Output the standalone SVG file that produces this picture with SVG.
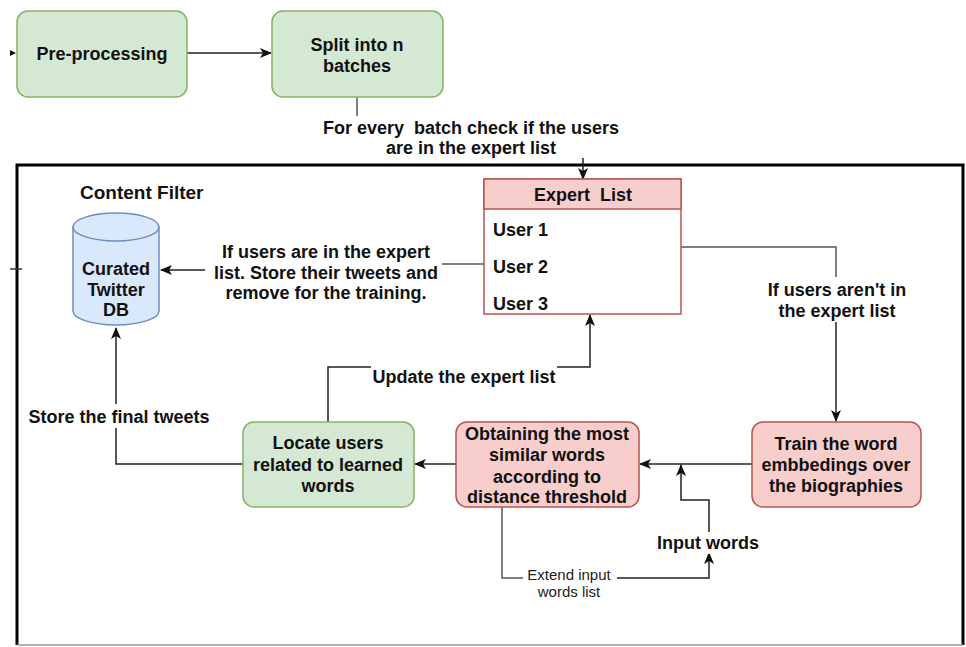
<svg xmlns="http://www.w3.org/2000/svg" width="966" height="647" viewBox="0 0 966 647">
<style>
  .t{font-family:"Liberation Sans",Arial,sans-serif;font-weight:bold;font-size:18px;fill:#111;text-anchor:middle}
  .s{font-family:"Liberation Sans",Arial,sans-serif;font-size:15px;fill:#222;text-anchor:middle}
  .pre{white-space:pre}
  .green{fill:#d5e8d4;stroke:#82b366;stroke-width:1.5}
  .red{fill:#f8cecc;stroke:#b85450;stroke-width:1.5}
  .blue{fill:#dae8fc;stroke:#6c8ebf;stroke-width:1.5}
  .e{fill:none;stroke:#222;stroke-width:1.5}
  .g{fill:none;stroke:#555;stroke-width:1.5}
</style>
<defs>
  <marker id="arr" markerUnits="userSpaceOnUse" markerWidth="12" markerHeight="10" viewBox="0 0 12 10" refX="11" refY="5" orient="auto">
    <path d="M0,0 L12,5 L0,10 L3,5 z" fill="#111"/>
  </marker>
</defs>
<rect width="966" height="647" fill="#fff"/>

<g id="frame">
  <path d="M17,645 V165 H963 V645" fill="none" stroke="#000" stroke-width="3"/>
  <line x1="17" y1="645" x2="963" y2="645" stroke="#999" stroke-width="1.5"/>
  <line x1="10" y1="269" x2="22" y2="269" stroke="#333" stroke-width="1.5"/>
  <text class="t" x="80" y="199" style="text-anchor:start;font-size:19px">Content Filter</text>
</g>

<g id="connectors">
  <path d="M10,50 L16,53 L10,56 z" fill="#111"/>
  <path class="e" d="M187,53 H271" marker-end="url(#arr)"/>
  <path class="g" d="M357,97 V116"/>
  <path class="e" d="M583,158 V179" marker-end="url(#arr)"/>
  <path class="g" d="M681,247 H836 V277"/>
  <path class="e" d="M836,322 V421" marker-end="url(#arr)"/>
  <path class="g" d="M484,264 H442"/>
  <path class="e" d="M205,270 H161" marker-end="url(#arr)"/>
  <path class="e" d="M752,464 H640" marker-end="url(#arr)"/>
  <path class="e" d="M456,464 H415" marker-end="url(#arr)"/>
  <path class="e" d="M243,464 H116 V328" marker-end="url(#arr)"/>
  <path class="e" d="M328,422 V367 H371"/>
  <path class="e" d="M557,367 H590 V315" marker-end="url(#arr)"/>
  <path class="g" d="M502,507 V578 H523"/>
  <path class="e" d="M617,578 H709 V553" marker-end="url(#arr)"/>
  <path class="e" d="M709,532 V500 H681 V465" marker-end="url(#arr)"/>

  <text class="t pre" x="471" y="134">For every  batch check if the users</text>
  <text class="t" x="471" y="154">are in the expert list</text>
  <text class="t" x="837" y="296">If users aren't in</text>
  <text class="t" x="837" y="317">the expert list</text>
  <text class="t" x="326" y="258">If users are in the expert</text>
  <text class="t" x="326" y="279">list. Store their tweets and</text>
  <text class="t" x="326" y="299">remove for the training.</text>
  <text class="t" x="464" y="383">Update the expert list</text>
  <rect x="26" y="404" width="186" height="24" fill="#fff"/>
  <text class="t" x="119" y="423">Store the final tweets</text>
  <rect x="655" y="532" width="106" height="22" fill="#fff"/>
  <text class="t" x="708" y="549">Input words</text>
  <text class="s" x="569" y="580">Extend input</text>
  <text class="s" x="569" y="597">words list</text>
</g>

<g id="pre-processing">
  <rect class="green" x="17" y="11" width="170" height="86" rx="11"/>
  <text class="t" x="102" y="59.5">Pre-processing</text>
</g>

<g id="split">
  <rect class="green" x="272" y="11" width="171" height="86" rx="11"/>
  <text class="t" x="357" y="51">Split into n</text>
  <text class="t" x="357" y="72">batches</text>
</g>

<g id="expert-list">
  <rect x="484" y="179" width="197" height="135" fill="#fff" stroke="#b85450" stroke-width="1.5"/>
  <rect class="red" x="484" y="179" width="197" height="30"/>
  <text class="t pre" x="583" y="201">Expert  List</text>
  <text class="t" x="493" y="236" style="text-anchor:start">User 1</text>
  <text class="t" x="493" y="273" style="text-anchor:start">User 2</text>
  <text class="t" x="493" y="310" style="text-anchor:start">User 3</text>
</g>

<g id="db">
  <path class="blue" d="M73,227 A43,14 0 0 1 159,227 V311 A43,14 0 0 1 73,311 Z"/>
  <path fill="none" stroke="#6c8ebf" stroke-width="1.5" d="M73,227 A43,14 0 0 0 159,227"/>
  <text class="t" x="116" y="274.5">Curated</text>
  <text class="t" x="116" y="295.5">Twitter</text>
  <text class="t" x="116" y="316">DB</text>
</g>

<g id="train">
  <rect class="red" x="752" y="422" width="169" height="85" rx="11"/>
  <text class="t" x="836" y="450">Train the word</text>
  <text class="t" x="836" y="471">embbedings over</text>
  <text class="t" x="836" y="492">the biographies</text>
</g>

<g id="obtaining">
  <rect class="red" x="456" y="422" width="183" height="85" rx="11"/>
  <text class="t" x="547" y="440">Obtaining the most</text>
  <text class="t" x="547" y="461">similar words</text>
  <text class="t" x="547" y="483">according to</text>
  <text class="t" x="547" y="503">distance threshold</text>
</g>

<g id="locate">
  <rect class="green" x="243" y="422" width="171" height="85" rx="11"/>
  <text class="t" x="328" y="449">Locate users</text>
  <text class="t" x="328" y="471">related to learned</text>
  <text class="t" x="328" y="492">words</text>
</g>
</svg>
